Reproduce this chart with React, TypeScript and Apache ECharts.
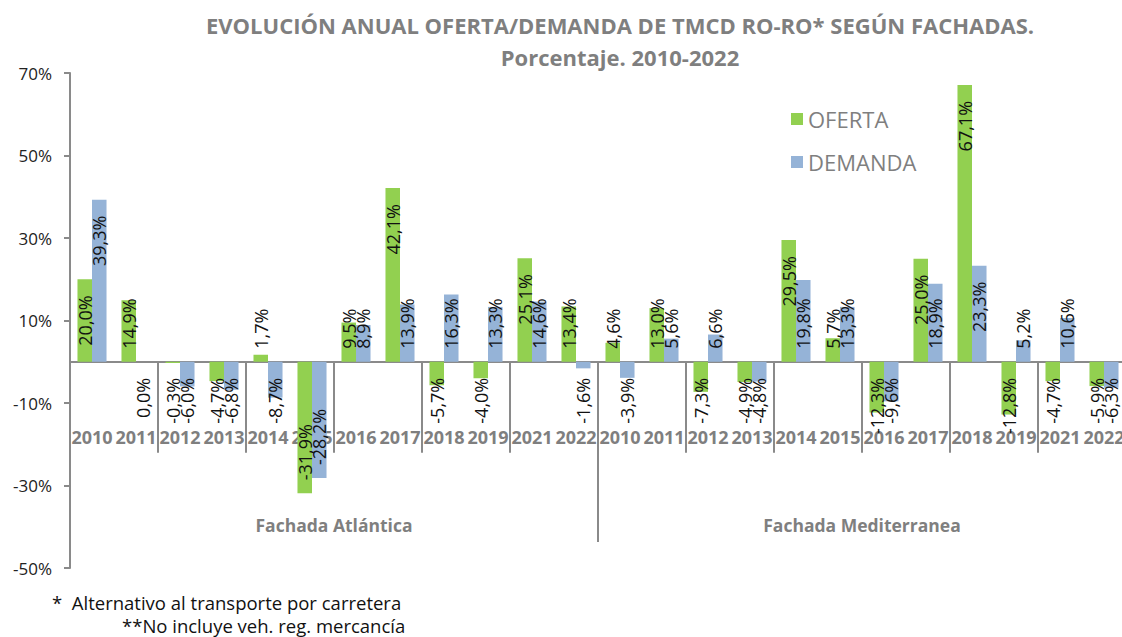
import React, { useEffect, useRef } from 'react';
import * as echarts from 'echarts';

// ---- data ----
const groups = ['Fachada Atlántica', 'Fachada Mediterranea'];
const yearsAtlantica = ['2010', '2011', '2012', '2013', '2014', '2015', '2016', '2017', '2018', '2019', '2021', '2022'];
const yearsMediterranea = ['2010', '2011', '2012', '2013', '2014', '2015', '2016', '2017', '2018', '2019', '2021', '2022'];
const ofertaAtlantica = [20.0, 14.9, -0.3, -4.7, 1.7, -31.9, 9.5, 42.1, -5.7, -4.0, 25.1, 13.4];
const demandaAtlantica = [39.3, 0.0, -6.0, -6.8, -8.7, -28.2, 8.9, 13.9, 16.3, 13.3, 14.6, -1.6];
const ofertaMediterranea = [4.6, 13.0, -7.3, -4.9, 29.5, 5.7, -12.3, 25.0, 67.1, -12.8, -4.7, -5.9];
const demandaMediterranea = [-3.9, 5.6, 6.6, -4.8, 19.8, 13.3, -9.6, 18.9, 23.3, 5.2, 10.6, -6.3];
const yTicks = [-50, -30, -10, 10, 30, 50, 70];
const seriesNames = ['OFERTA', 'DEMANDA'];
const titleText = 'EVOLUCIÓN ANUAL OFERTA/DEMANDA DE TMCD RO-RO* SEGÚN FACHADAS.\nPorcentaje. 2010-2022';
const footnote1 = '*  Alternativo al transporte por carretera';
const footnote2 = '**No incluye veh. reg. mercancía';

const FONT = '"Open Sans", "Noto Sans", sans-serif';
const LABEL_SIZE = 18;
const AXIS_GRAY = '#8a8a8a';
const TEXT_GRAY = '#7f7f7f';

const fmt = (v: number) => v.toFixed(1).replace('.', ',') + '%';

function labelFor(v: number, px: number, textLen: number) {
  const positive = v > 0;
  const fits = px > textLen + 32;
  const atTop = positive ? fits : !fits;
  return {
    show: true,
    position: atTop ? 'insideTop' : 'insideBottom',
    align: atTop ? 'right' : 'left',
    verticalAlign: 'middle',
    rotate: 90,
    distance: atTop ? 16 : 13,
    formatter: fmt(v),
    color: '#111',
    fontFamily: FONT,
    fontSize: LABEL_SIZE,
  };
}

export default function App() {
  const ref = useRef<HTMLDivElement>(null);

  useEffect(() => {
    const el = ref.current!;
    const chart = echarts.init(el, null, { renderer: 'svg' });

    const categories = [
      ...yearsAtlantica.map((y) => `A|${y}`),
      ...yearsMediterranea.map((y) => `M|${y}`),
    ];
    const oferta = [...ofertaAtlantica, ...ofertaMediterranea];
    const demanda = [...demandaAtlantica, ...demandaMediterranea];

    const option: any = {
      animation: false,
      backgroundColor: '#fff',
      title: {
        text: titleText,
        left: 615,
        top: 4,
        textAlign: 'center',
        textStyle: {
          fontFamily: FONT,
          fontSize: 22,
          fontWeight: 'bold',
          color: TEXT_GRAY,
          lineHeight: 32,
        },
      },
      legend: {
        data: seriesNames,
        orient: 'vertical',
        left: 786,
        top: 103,
        icon: 'rect',
        itemWidth: 12,
        itemHeight: 12,
        itemGap: 21,
        textStyle: { fontFamily: FONT, fontSize: 22, color: TEXT_GRAY },
      },
      grid: [
        { left: 70, right: -4, top: 73, bottom: 69, outerBoundsMode: 'none', containLabel: false },
        { left: 70, right: -4, top: 362, bottom: 95, outerBoundsMode: 'none', containLabel: false },
      ],
      xAxis: [
        {
          type: 'category',
          gridIndex: 0,
          data: categories,
          axisLine: { show: true, onZero: true, lineStyle: { color: AXIS_GRAY, width: 2 } },
          axisTick: { show: true, length: 91, lineStyle: { color: AXIS_GRAY, width: 2 } },
          axisLabel: { show: false },
          splitLine: { show: false },
        },
        {
          type: 'category',
          gridIndex: 1,
          position: 'top',
          data: categories,
          axisLine: { show: false },
          axisTick: { show: false },
          axisLabel: {
            inside: true,
            interval: 0,
            margin: 66,
            formatter: (v: string) => v.split('|')[1],
            color: TEXT_GRAY,
            fontFamily: FONT,
            fontSize: 18,
            fontWeight: 'bold',
          },
          splitLine: { show: false },
        },
        {
          type: 'category',
          gridIndex: 1,
          position: 'bottom',
          data: groups,
          axisLine: { show: false },
          axisTick: { show: true, inside: true, length: 180, lineStyle: { color: AXIS_GRAY, width: 2 } },
          axisLabel: {
            inside: true,
            interval: 0,
            margin: 8,
            color: TEXT_GRAY,
            fontFamily: FONT,
            fontSize: 17.5,
            fontWeight: 'bold',
          },
          splitLine: { show: false },
        },
      ],
      yAxis: [
        {
          type: 'value',
          gridIndex: 0,
          min: -50,
          max: 70,
          interval: 10,
          axisLine: { show: true, lineStyle: { color: AXIS_GRAY, width: 2 } },
          axisTick: { show: true, length: 6, customValues: yTicks, lineStyle: { color: AXIS_GRAY, width: 2 } },
          axisLabel: {
            customValues: yTicks,
            formatter: (v: number) => (yTicks.includes(v) ? `${v}%` : ''),
            margin: 18,
            color: '#222',
            fontFamily: FONT,
            fontSize: 17,
          },
          splitLine: { show: false },
        },
        { type: 'value', gridIndex: 1, show: false, min: 0, max: 1 },
      ],
      series: [
        {
          name: seriesNames[0],
          type: 'bar',
          xAxisIndex: 0,
          yAxisIndex: 0,
          data: oferta,
          barGap: '0%',
          barCategoryGap: '34%',
          itemStyle: { color: '#92D050' },
        },
        {
          name: seriesNames[1],
          type: 'bar',
          xAxisIndex: 0,
          yAxisIndex: 0,
          data: demanda,
          barGap: '0%',
          barCategoryGap: '34%',
          itemStyle: { color: '#95B3D7' },
        },
      ],
      graphic: [
        { type: 'text', left: 52, top: 593, style: { text: footnote1, fill: '#111', font: `18.5px ${FONT}` } },
        { type: 'text', left: 122, top: 616, style: { text: footnote2, fill: '#111', font: `18.5px ${FONT}` } },
      ],
    };

    chart.setOption(option);

    const y0 = chart.convertToPixel({ yAxisIndex: 0 }, 0) as number;
    const ctx = document.createElement('canvas').getContext('2d')!;
    ctx.font = `${LABEL_SIZE}px ${FONT}`;
    const build = (vals: number[]) =>
      vals.map((v) => {
        const px = Math.abs((chart.convertToPixel({ yAxisIndex: 0 }, v) as number) - y0);
        const tl = ctx.measureText(fmt(v)).width;
        return { value: v, label: labelFor(v, px, tl) };
      });

    chart.setOption({ series: [{ data: build(oferta) }, { data: build(demanda) }] });

    return () => chart.dispose();
  }, []);

  return (
    <div
      ref={ref}
      style={{ position: 'fixed', left: 0, top: 0, width: 1122, height: 637, background: '#fff' }}
    />
  );
}
